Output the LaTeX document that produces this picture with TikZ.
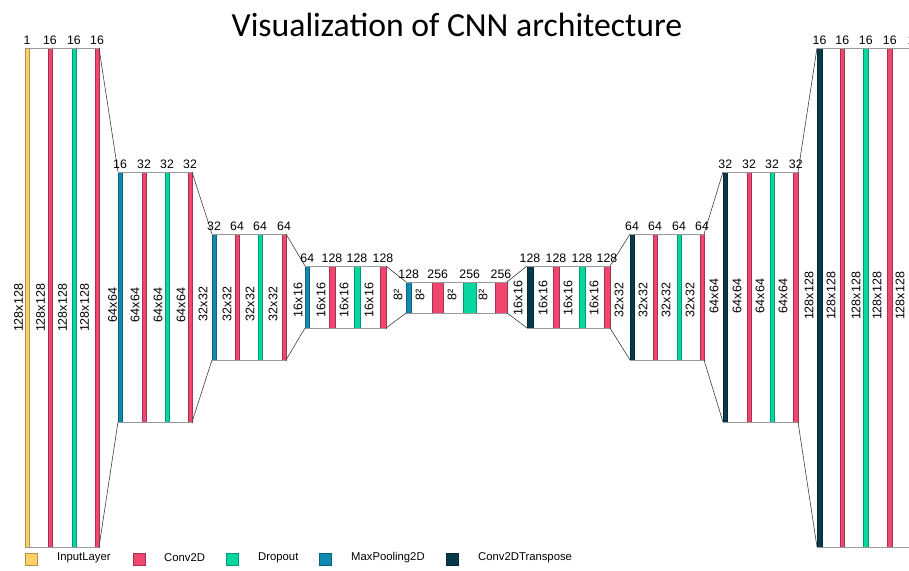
\documentclass[tikz,border=0pt]{standalone}
\usepackage{fontspec}
\setmainfont{Liberation Sans}
\newfontfamily\titlefont{Carlito}
\definecolor{cinput}{HTML}{FFD166}
\definecolor{cconv}{HTML}{EF476F}
\definecolor{cdrop}{HTML}{06D6A0}
\definecolor{cpool}{HTML}{118AB2}
\definecolor{ctrans}{HTML}{073B4C}
\begin{document}
\begin{tikzpicture}[x=1pt,y=-1pt,
  bar/.style={line width=0.6pt, inner sep=0pt, outer sep=0pt, anchor=north west, minimum width=4},
  inp/.style={bar, fill=cinput, draw=cinput!70!black},
  conv/.style={bar, fill=cconv, draw=cconv!70!black},
  drop/.style={bar, fill=cdrop, draw=cdrop!70!black},
  pool/.style={bar, fill=cpool, draw=cpool!70!black},
  trans/.style={bar, fill=ctrans, draw=ctrans!70!black},
  hA/.style={minimum height=499},
  hB/.style={minimum height=250},
  hC/.style={minimum height=126},
  hD/.style={minimum height=62},
  hE/.style={minimum height=31},
  toplab/.style={anchor=base, inner sep=0pt, font=\fontsize{12.3}{14}\selectfont, yshift=3.5pt},
  rotlab/.style={rotate=90, inner sep=0pt, font=\fontsize{12.5}{14}\selectfont},
  rim/.style={draw=black!40, line width=0.8pt},
  conn/.style={draw=black!75, line width=0.6pt},
  legsq/.style={minimum width=12, minimum height=12, inner sep=0pt, line width=0.6pt},
  legtext/.style={anchor=west, inner sep=0pt, font=\fontsize{11.3}{13}\selectfont},
]
\useasboundingbox (0,0) rectangle (909,570);
\clip (0,0) rectangle (909,570);

% title
\node[font=\titlefont\fontsize{33.7}{40}\selectfont, anchor=base, inner sep=0pt] (title) at (457,36) {Visualization of CNN architecture};

% block A
\node[inp,hA] (a1) at (25,48) {};
\node[conv,hA] (a2) at (48,48) {};
\node[drop,hA] (a3) at (72,48) {};
\node[conv,hA] (a4) at (95,48) {};
% block B
\node[pool,hB] (b1) at (118,172) {};
\node[conv,hB] (b2) at (142,172) {};
\node[drop,hB] (b3) at (165,172) {};
\node[conv,hB] (b4) at (188,172) {};
% block C
\node[pool,hC] (c1) at (212,234) {};
\node[conv,hC] (c2) at (235,234) {};
\node[drop,hC] (c3) at (258,234) {};
\node[conv,hC] (c4) at (282,234) {};
% block D
\node[pool,hD,minimum width=4.5] (d1) at (305,266) {};
\node[conv,hD,minimum width=6] (d2) at (329,266) {};
\node[drop,hD,minimum width=6] (d3) at (354,266) {};
\node[conv,hD,minimum width=6] (d4) at (380,266) {};
% block E
\node[pool,hE,minimum width=5.5] (e1) at (406,282) {};
\node[conv,hE,minimum width=11.5] (e2) at (432,282) {};
\node[drop,hE,minimum width=12.5] (e3) at (463.5,282) {};
\node[conv,hE,minimum width=12] (e4) at (495,282) {};
% block F
\node[trans,hD,minimum width=6] (f1) at (527,266) {};
\node[conv,hD,minimum width=6] (f2) at (553,266) {};
\node[drop,hD,minimum width=6] (f3) at (579,266) {};
\node[conv,hD,minimum width=6] (f4) at (604,266) {};
% block G
\node[trans,hC] (g1) at (630,234) {};
\node[conv,hC] (g2) at (653,234) {};
\node[drop,hC] (g3) at (677,234) {};
\node[conv,hC] (g4) at (700,234) {};
% block H
\node[trans,hB,minimum width=4.5] (h1) at (723,172) {};
\node[conv,hB] (h2) at (747,172) {};
\node[drop,hB] (h3) at (770,172) {};
\node[conv,hB,minimum width=4.5] (h4) at (793.5,172) {};
% block I
\node[trans,hA,minimum width=5] (i1) at (817,48) {};
\node[conv,hA,minimum width=4.5] (i2) at (840,48) {};
\node[drop,hA,minimum width=4.5] (i3) at (863.5,48) {};
\node[conv,hA,minimum width=4.5] (i4) at (887.5,48) {};
\coordinate (iendN) at (920,48);
\coordinate (iendS) at (920,547);

% block rims
\draw[rim] (a1.north west) -- (a4.north east) (a1.south west) -- (a4.south east);
\draw[rim] (b1.north west) -- (b4.north east) (b1.south west) -- (b4.south east);
\draw[rim] (c1.north west) -- (c4.north east) (c1.south west) -- (c4.south east);
\draw[rim] (d1.north west) -- (d4.north east) (d1.south west) -- (d4.south east);
\draw[rim] (e1.north west) -- (e4.north east) (e1.south west) -- (e4.south east);
\draw[rim] (f1.north west) -- (f4.north east) (f1.south west) -- (f4.south east);
\draw[rim] (g1.north west) -- (g4.north east) (g1.south west) -- (g4.south east);
\draw[rim] (h1.north west) -- (h4.north east) (h1.south west) -- (h4.south east);
\draw[rim] (i1.north west) -- (iendN) (i1.south west) -- (iendS);

% connectors
\draw[conn] (a4.north east) -- (b1.north west) (a4.south east) -- (b1.south west);
\draw[conn] (b4.north east) -- (c1.north west) (b4.south east) -- (c1.south west);
\draw[conn] (c4.north east) -- (d1.north west) (c4.south east) -- (d1.south west);
\draw[conn] (d4.north east) -- (e1.north west) (d4.south east) -- (e1.south west);
\draw[conn] (e4.north east) -- (f1.north west) (e4.south east) -- (f1.south west);
\draw[conn] (f4.north east) -- (g1.north west) (f4.south east) -- (g1.south west);
\draw[conn] (g4.north east) -- (h1.north west) (g4.south east) -- (h1.south west);
\draw[conn] (h4.north east) -- (i1.north west) (h4.south east) -- (i1.south west);

% top labels
\node[toplab] (ta1) at (a1.north) {1};
\node[toplab] (ta2) at (a2.north) {16};
\node[toplab] (ta3) at (a3.north) {16};
\node[toplab] (ta4) at (a4.north) {16};
\node[toplab] (tb1) at (b1.north) {16};
\node[toplab] (tb2) at (b2.north) {32};
\node[toplab] (tb3) at (b3.north) {32};
\node[toplab] (tb4) at (b4.north) {32};
\node[toplab] (tc1) at (c1.north) {32};
\node[toplab] (tc2) at (c2.north) {64};
\node[toplab] (tc3) at (c3.north) {64};
\node[toplab] (tc4) at (c4.north) {64};
\node[toplab] (td1) at (d1.north) {64};
\node[toplab] (td2) at (d2.north) {128};
\node[toplab] (td3) at (d3.north) {128};
\node[toplab] (td4) at (d4.north) {128};
\node[toplab] (te1) at (e1.north) {128};
\node[toplab] (te2) at (e2.north) {256};
\node[toplab] (te3) at (e3.north) {256};
\node[toplab] (te4) at (e4.north) {256};
\node[toplab] (tf1) at (f1.north) {128};
\node[toplab] (tf2) at (f2.north) {128};
\node[toplab] (tf3) at (f3.north) {128};
\node[toplab] (tf4) at (f4.north) {128};
\node[toplab] (tg1) at (g1.north) {64};
\node[toplab] (tg2) at (g2.north) {64};
\node[toplab] (tg3) at (g3.north) {64};
\node[toplab] (tg4) at (g4.north) {64};
\node[toplab] (th1) at (h1.north) {32};
\node[toplab] (th2) at (h2.north) {32};
\node[toplab] (th3) at (h3.north) {32};
\node[toplab] (th4) at (h4.north) {32};
\node[toplab] (ti1) at (i1.north) {16};
\node[toplab] (ti2) at (i2.north) {16};
\node[toplab] (ti3) at (i3.north) {16};
\node[toplab] (ti4) at (i4.north) {16};
\node[toplab] (ti5) at (911,48) {1};

% size labels
\node[rotlab] (sa1) at (18.5,308) {128x128};
\node[rotlab] (sa2) at (40.5,308) {128x128};
\node[rotlab] (sa3) at (62.5,308) {128x128};
\node[rotlab] (sa4) at (84.5,308) {128x128};
\node[rotlab] (sb1) at (112.5,305) {64x64};
\node[rotlab] (sb2) at (135,305) {64x64};
\node[rotlab] (sb3) at (158,305) {64x64};
\node[rotlab] (sb4) at (181,305) {64x64};
\node[rotlab] (sc1) at (203,304) {32x32};
\node[rotlab] (sc2) at (227,304) {32x32};
\node[rotlab] (sc3) at (250,304) {32x32};
\node[rotlab] (sc4) at (273,304) {32x32};
\node[rotlab] (sd1) at (298,300) {16x16};
\node[rotlab] (sd2) at (321,300) {16x16};
\node[rotlab] (sd3) at (344,300) {16x16};
\node[rotlab] (sd4) at (369,300) {16x16};
\node[rotlab] (se1) at (398,295) {8²};
\node[rotlab] (se2) at (420,295) {8²};
\node[rotlab] (se3) at (452,295) {8²};
\node[rotlab] (se4) at (483,295) {8²};
\node[rotlab] (sf1) at (518,298) {16x16};
\node[rotlab] (sf2) at (543,298) {16x16};
\node[rotlab] (sf3) at (568,298) {16x16};
\node[rotlab] (sf4) at (594,298) {16x16};
\node[rotlab] (sg1) at (619,300) {32x32};
\node[rotlab] (sg2) at (643,300) {32x32};
\node[rotlab] (sg3) at (666,300) {32x32};
\node[rotlab] (sg4) at (690,300) {32x32};
\node[rotlab] (sh1) at (714,296) {64x64};
\node[rotlab] (sh2) at (737,296) {64x64};
\node[rotlab] (sh3) at (760,296) {64x64};
\node[rotlab] (sh4) at (783,296) {64x64};
\node[rotlab] (si1) at (809,296) {128x128};
\node[rotlab] (si2) at (831,296) {128x128};
\node[rotlab] (si3) at (856,296) {128x128};
\node[rotlab] (si4) at (877,296) {128x128};
\node[rotlab] (si5) at (900,296) {128x128};

% legend
\node[legsq, fill=cinput, draw=cinput!70!black] (k1) at (31,559) {};
\node[legtext] (k1t) at (57,558) {InputLayer};
\node[legsq, fill=cconv, draw=cconv!70!black] (k2) at (139,559) {};
\node[legtext] (k2t) at (164,558) {Conv2D};
\node[legsq, fill=cdrop, draw=cdrop!70!black] (k3) at (232,559) {};
\node[legtext] (k3t) at (258,558) {Dropout};
\node[legsq, fill=cpool, draw=cpool!70!black] (k4) at (325,559) {};
\node[legtext] (k4t) at (351,558) {MaxPooling2D};
\node[legsq, fill=ctrans, draw=ctrans!70!black] (k5) at (452,559) {};
\node[legtext] (k5t) at (478,558) {Conv2DTranspose};
\end{tikzpicture}
\end{document}
